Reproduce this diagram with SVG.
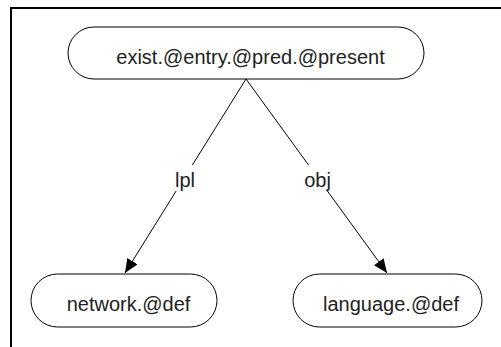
<svg xmlns="http://www.w3.org/2000/svg" width="501" height="347" viewBox="0 0 501 347">
<style>
.node rect{fill:#fff;stroke:#000;stroke-width:1}
text{font-family:"Liberation Sans",Arial,sans-serif;font-size:20px;fill:#222;text-anchor:middle}
.edge{stroke:#000;stroke-width:1;fill:none}
.lbl-bg{fill:#fff}
</style>
<defs>
<marker id="arr" viewBox="0 0 14 12" refX="14" refY="6" markerWidth="14" markerHeight="12" markerUnits="userSpaceOnUse" orient="auto">
<path d="M0,0 L14,6 L0,12 Z" fill="#000"/>
</marker>
</defs>
<rect width="501" height="347" fill="#fff"/>
<path d="M11,347 V8 H501" fill="none" stroke="#000" stroke-width="2"/>
<g id="connectors">
<line class="edge" x1="246" y1="79" x2="125" y2="273" marker-end="url(#arr)"/>
<line class="edge" x1="246" y1="79" x2="387" y2="273" marker-end="url(#arr)"/>
<rect class="lbl-bg" x="173" y="165" width="24" height="26"/>
<text x="185" y="187">lpl</text>
<rect class="lbl-bg" x="302" y="165" width="31" height="26"/>
<text x="317.5" y="187">obj</text>
</g>
<g id="n-exist" class="node">
<rect x="68" y="27" width="356" height="52" rx="26"/>
<text x="250.5" y="64">exist.@entry.@pred.@present</text>
</g>
<g id="n-network" class="node">
<rect x="31" y="274" width="186" height="53" rx="26.5"/>
<text x="128.5" y="311">network.@def</text>
</g>
<g id="n-language" class="node">
<rect x="293" y="274" width="189" height="53" rx="26.5"/>
<text x="391" y="311">language.@def</text>
</g>
</svg>
